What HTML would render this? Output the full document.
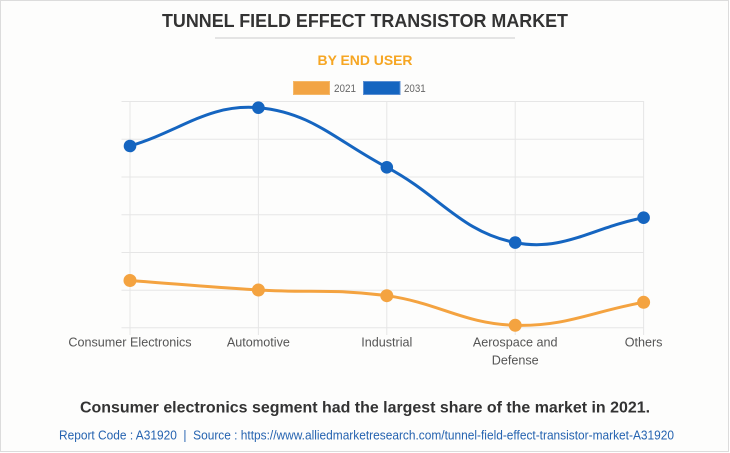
<!DOCTYPE html>
<html>
<head>
<meta charset="utf-8">
<style>
  html,body{margin:0;padding:0;background:#ffffff;}
  svg{display:block;}
  text{font-family:"Liberation Sans",Arial,sans-serif;}
</style>
</head>
<body>
<svg width="730" height="453" viewBox="0 0 730 453" xmlns="http://www.w3.org/2000/svg">
  <rect x="0" y="0" width="730" height="453" fill="#ffffff"/>
  <rect x="0.5" y="0.5" width="728" height="451" fill="#fdfdfc" stroke="#dcdcdc" stroke-width="1"/>

  <!-- Title -->
  <text x="365" y="27" text-anchor="middle" font-size="18" font-weight="bold" fill="#333333" textLength="406" lengthAdjust="spacingAndGlyphs">TUNNEL FIELD EFFECT TRANSISTOR MARKET</text>
  <line x1="215" y1="38" x2="515" y2="38" stroke="#cccccc" stroke-width="1"/>
  <text x="365" y="65" text-anchor="middle" font-size="14" font-weight="bold" fill="#f6a623" textLength="95" lengthAdjust="spacingAndGlyphs">BY END USER</text>

  <!-- Legend -->
  <rect x="293.5" y="81.5" width="36" height="13" fill="#f2a444" stroke="#f5b868" stroke-width="1"/>
  <text x="334" y="92" font-size="11" fill="#666666" textLength="22" lengthAdjust="spacingAndGlyphs">2021</text>
  <rect x="363.5" y="81.5" width="36.5" height="13" fill="#1565c0" stroke="#5b8fd3" stroke-width="1"/>
  <text x="404" y="92" font-size="11" fill="#666666" textLength="21.7" lengthAdjust="spacingAndGlyphs">2031</text>

  <!-- Grid: horizontal -->
  <g stroke="#e6e6e6" stroke-width="1">
    <line x1="121.5" y1="101.5" x2="643.6" y2="101.5"/>
    <line x1="121.5" y1="139.25" x2="643.6" y2="139.25"/>
    <line x1="121.5" y1="177" x2="643.6" y2="177"/>
    <line x1="121.5" y1="214.75" x2="643.6" y2="214.75"/>
    <line x1="121.5" y1="252.5" x2="643.6" y2="252.5"/>
    <line x1="121.5" y1="290.25" x2="643.6" y2="290.25"/>
    <line x1="121.5" y1="327.75" x2="643.6" y2="327.75"/>
  </g>
  <!-- Grid: vertical -->
  <g stroke="#e6e6e6" stroke-width="1">
    <line x1="130" y1="101" x2="130" y2="335"/>
    <line x1="258.4" y1="101" x2="258.4" y2="335"/>
    <line x1="386.8" y1="101" x2="386.8" y2="335"/>
    <line x1="515.2" y1="101" x2="515.2" y2="335"/>
    <line x1="643.6" y1="101" x2="643.6" y2="335"/>
  </g>

  <!-- 2031 series -->
  <path d="M130,146 C181.36,130.68 208.45,103.56 258.4,107.7 C311.17,112.08 336.73,141.0 386.8,167.3 C439.45,194.96 460.53,231.87 515.2,242.6 C563.25,252.03 592.24,227.66 643.6,217.7" fill="none" stroke="#1565c0" stroke-width="3" stroke-linejoin="round" stroke-linecap="round"/>
  <g fill="#1565c0">
    <circle cx="130" cy="146" r="6.3"/>
    <circle cx="258.4" cy="107.7" r="6.3"/>
    <circle cx="386.8" cy="167.3" r="6.3"/>
    <circle cx="515.2" cy="242.6" r="6.3"/>
    <circle cx="643.6" cy="217.7" r="6.3"/>
  </g>

  <!-- 2021 series -->
  <path d="M130,280.5 C181.36,284.3 207.0,286.96 258.4,290 C309.72,293.04 336.08,288.73 386.8,295.7 C438.8,302.85 463.58,323.97 515.2,325.3 C566.3,326.61 592.24,311.5 643.6,302.3" fill="none" stroke="#f4a340" stroke-width="3" stroke-linejoin="round" stroke-linecap="round"/>
  <g fill="#f4a340">
    <circle cx="130" cy="280.5" r="6.5"/>
    <circle cx="258.4" cy="290" r="6.5"/>
    <circle cx="386.8" cy="295.7" r="6.5"/>
    <circle cx="515.2" cy="325.3" r="6.5"/>
    <circle cx="643.6" cy="302.3" r="6.5"/>
  </g>

  <!-- X labels -->
  <g font-size="12.6" fill="#555555" text-anchor="middle">
    <text x="130" y="346.5">Consumer Electronics</text>
    <text x="258.4" y="346.5">Automotive</text>
    <text x="386.8" y="346.5">Industrial</text>
    <text x="515.2" y="346.5">Aerospace and</text>
    <text x="515.2" y="364.5">Defense</text>
    <text x="643.6" y="346.5">Others</text>
  </g>

  <!-- Footer -->
  <text x="365" y="412.3" text-anchor="middle" font-size="16" font-weight="bold" fill="#333333" textLength="570" lengthAdjust="spacingAndGlyphs">Consumer electronics segment had the largest share of the market in 2021.</text>
  <text x="59" y="439.3" font-size="13" fill="#2563b0" textLength="615" lengthAdjust="spacingAndGlyphs">Report Code : A31920&#160;&#160;|&#160;&#160;Source : https://www.alliedmarketresearch.com/tunnel-field-effect-transistor-market-A31920</text>
</svg>
</body>
</html>
